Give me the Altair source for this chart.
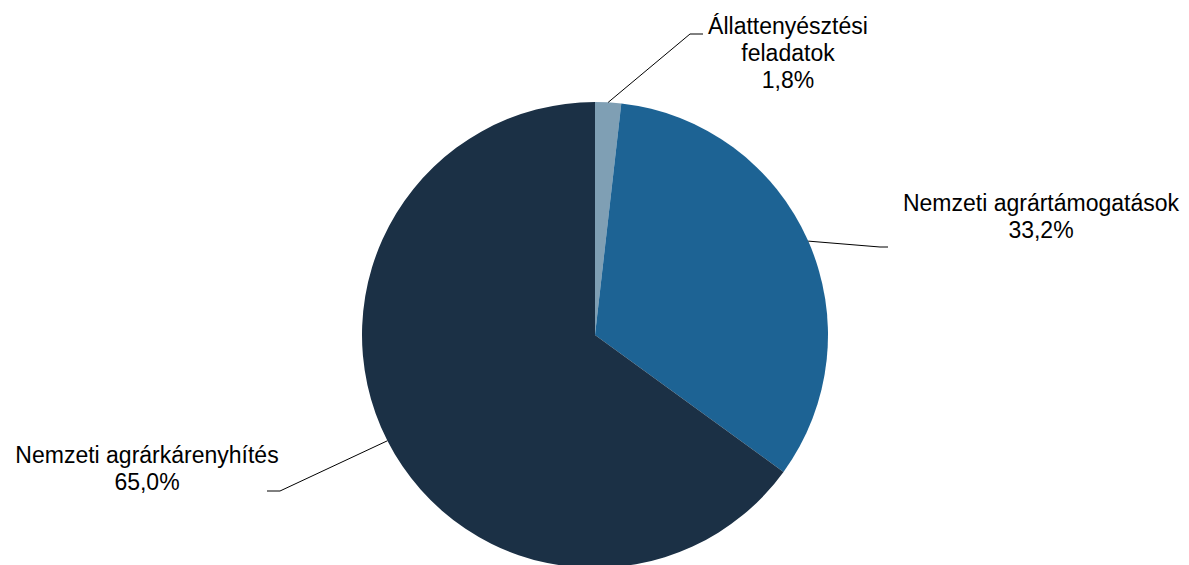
import math
import altair as alt
import pandas as pd

# ---- data ----
categories = ["Állattenyésztési feladatok", "Nemzeti agrártámogatások", "Nemzeti agrárkárenyhítés"]
label_lines = [["Állattenyésztési", "feladatok"], ["Nemzeti agrártámogatások"], ["Nemzeti agrárkárenyhítés"]]
shares = [1.8, 33.2, 65.0]

# ---- style / layout ----
colors = ["#7f9fb4", "#1d6394", "#1b3045"]
W, H, M = 1173, 557, 8
CX, CY, R = 595, 335, 233          # pie centre and radius (page px)
label_anchor = [(788, 34), (1041, 211), (147, 463)]
elbows = [(690, 34), (880, 247), (280, 491)]
ends = [(703, 34), (888, 247), (267, 491)]

total = sum(shares)
pie_df = pd.DataFrame({"category": categories, "share": shares, "idx": range(len(shares))})

# leader lines: start on the rim at each slice's mid-angle
rows = []
cum = 0.0
for i, (cat, s) in enumerate(zip(categories, shares)):
    mid = (cum + s / 2) / total * 2 * math.pi
    cum += s
    sx = CX + R * math.sin(mid)
    sy = CY - R * math.cos(mid)
    pts = [(sx, sy), elbows[i], ends[i]]
    for k, (px, py) in enumerate(pts):
        rows.append({"category": cat, "step": k, "px": px, "py": py})
line_df = pd.DataFrame(rows)

text_df = pd.DataFrame({
    "category": categories,
    "label": ["\n".join(lines + [f"{s:.1f}%".replace(".", ",")]) for lines, s in zip(label_lines, shares)],
    "px": [a[0] for a in label_anchor],
    "py": [a[1] for a in label_anchor],
})

xs = alt.Scale(domain=[M, M + W], nice=False, zero=False)
ys = alt.Scale(domain=[M, M + H], nice=False, zero=False, reverse=True)

pie = alt.Chart(pie_df).mark_arc(radius=R).encode(
    theta=alt.Theta("share:Q", stack=True),
    order=alt.Order("idx:Q"),
    color=alt.Color("category:N", scale=alt.Scale(domain=categories, range=colors), legend=None),
    x=alt.value(CX - M),
    y=alt.value(CY - M),
)

leaders = alt.Chart(line_df).mark_line(color="#000000", strokeWidth=1).encode(
    x=alt.X("px:Q", scale=xs, axis=None),
    y=alt.Y("py:Q", scale=ys, axis=None),
    detail="category:N",
    order="step:Q",
)

labels = alt.Chart(text_df).mark_text(
    lineBreak="\n", align="center", baseline="alphabetic",
    fontSize=23, lineHeight=27, font="Liberation Sans", color="#000000",
).encode(
    x=alt.X("px:Q", scale=xs, axis=None),
    y=alt.Y("py:Q", scale=ys, axis=None),
    text="label:N",
)

chart = alt.layer(pie, leaders, labels).properties(
    width=W, height=H, padding=0, background="#ffffff"
).configure_view(stroke=None)

chart.save("out.html", embed_options={"renderer": "svg", "actions": False})
